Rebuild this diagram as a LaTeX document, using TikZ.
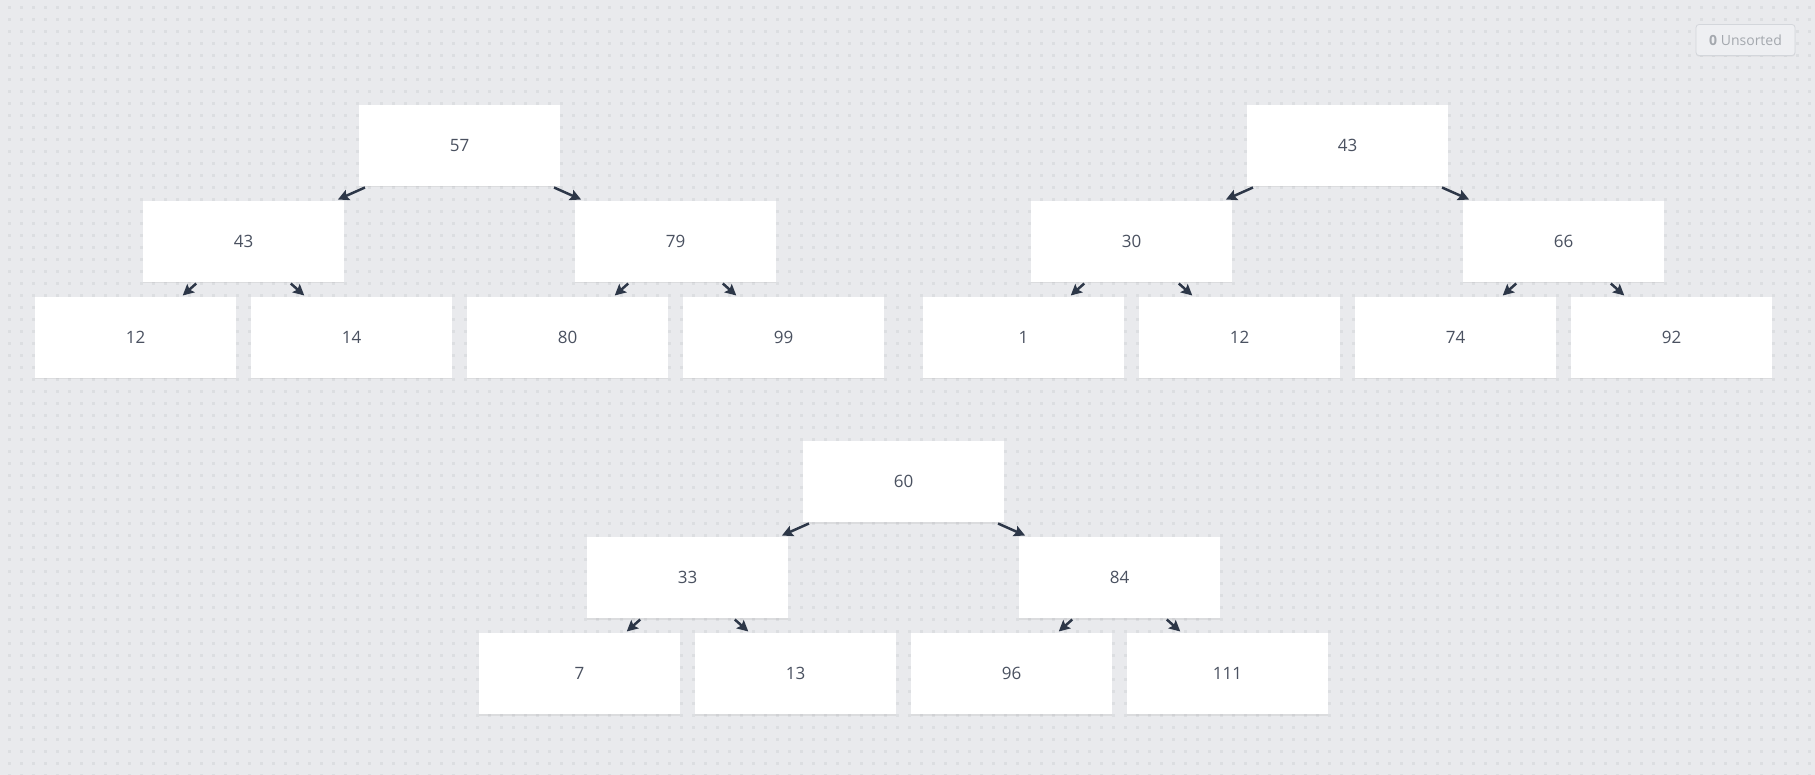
\documentclass[tikz,border=0pt]{standalone}
\usepackage{fontspec}
\setmainfont{Open Sans}
\usetikzlibrary{arrows.meta,shadows}
\definecolor{canvas}{HTML}{E9EAED}
\definecolor{griddot}{HTML}{DCDEE1}
\definecolor{ink}{HTML}{2D3748}
\definecolor{label}{HTML}{4A5160}
\definecolor{btnfill}{HTML}{EEEFF2}
\definecolor{btnline}{HTML}{D3D6DB}
\definecolor{btntext}{HTML}{A4A8AE}
\begin{document}
\begin{tikzpicture}[x=1pt, y=-1pt,
    card/.style={rectangle, fill=white, minimum width=201pt, minimum height=81pt,
      inner sep=0pt, outer sep=1.5pt, text=label, font=\fontsize{17}{20}\selectfont,
      drop shadow={shadow xshift=0pt, shadow yshift=-1.5pt, opacity=0.13}},
    link/.style={-{Stealth[length=11pt, width=11pt, inset=2pt]}, line width=2.5pt, draw=ink},
    dotrow/.style={draw=griddot, line width=3pt, dash pattern=on 3pt off 9pt},
    btn/.style={rectangle, rounded corners=3pt, fill=btnfill, draw=btnline, line width=0.8pt,
      minimum width=99pt, minimum height=31pt, text=btntext, font=\fontsize{14}{16}\selectfont,
      drop shadow={shadow xshift=0pt, shadow yshift=-1.2pt, opacity=0.1}}]
  \useasboundingbox (0,0) rectangle (1815,775);
  \fill[canvas] (0,0) rectangle (1815,775);
  \foreach \r in {0,...,64}
    \draw[dotrow] (8,7.5+12*\r) -- (1815,7.5+12*\r);

  % first tree
  \node[card] (a1) at (459.5,145.5) {57};
  \node[card] (a2) at (243.5,241.5) {43};
  \node[card] (a3) at (675.5,241.5) {79};
  \node[card] (a4) at (135.5,337.5) {12};
  \node[card] (a5) at (351.5,337.5) {14};
  \node[card] (a6) at (567.5,337.5) {80};
  \node[card] (a7) at (783.5,337.5) {99};

  % second tree
  \node[card] (b1) at (1347.5,145.5) {43};
  \node[card] (b2) at (1131.5,241.5) {30};
  \node[card] (b3) at (1563.5,241.5) {66};
  \node[card] (b4) at (1023.5,337.5) {1};
  \node[card] (b5) at (1239.5,337.5) {12};
  \node[card] (b6) at (1455.5,337.5) {74};
  \node[card] (b7) at (1671.5,337.5) {92};

  % third tree
  \node[card] (c1) at (903.5,481.5) {60};
  \node[card] (c2) at (687.5,577.5) {33};
  \node[card] (c3) at (1119.5,577.5) {84};
  \node[card] (c4) at (579.5,673.5) {7};
  \node[card] (c5) at (795.5,673.5) {13};
  \node[card] (c6) at (1011.5,673.5) {96};
  \node[card] (c7) at (1227.5,673.5) {111};

  \node[btn] (unsorted) at (1745.5,40) {\textbf{0} Unsorted};

  \draw[link] (a1) -- (a2);
  \draw[link] (a1) -- (a3);
  \draw[link] (a2) -- (a4);
  \draw[link] (a2) -- (a5);
  \draw[link] (a3) -- (a6);
  \draw[link] (a3) -- (a7);

  \draw[link] (b1) -- (b2);
  \draw[link] (b1) -- (b3);
  \draw[link] (b2) -- (b4);
  \draw[link] (b2) -- (b5);
  \draw[link] (b3) -- (b6);
  \draw[link] (b3) -- (b7);

  \draw[link] (c1) -- (c2);
  \draw[link] (c1) -- (c3);
  \draw[link] (c2) -- (c4);
  \draw[link] (c2) -- (c5);
  \draw[link] (c3) -- (c6);
  \draw[link] (c3) -- (c7);
\end{tikzpicture}
\end{document}
